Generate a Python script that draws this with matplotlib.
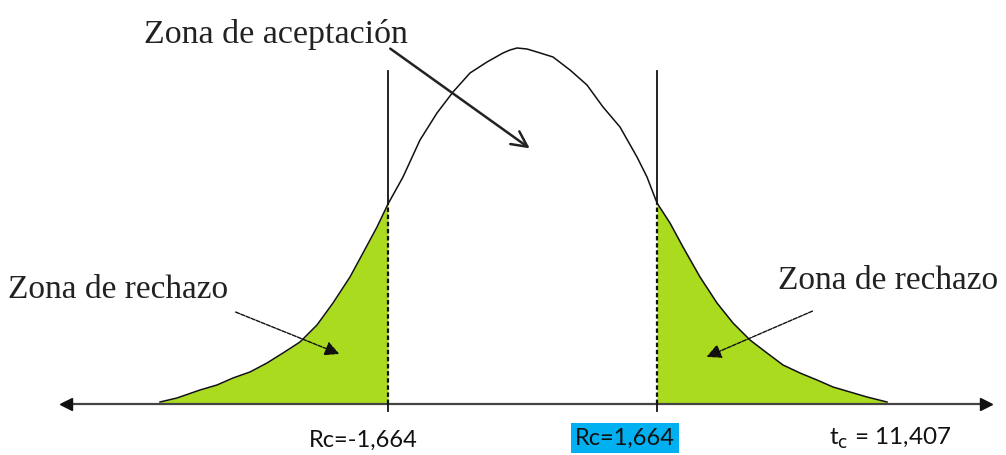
import matplotlib
matplotlib.use("Agg")
import matplotlib.pyplot as plt
import numpy as np

# ---- data (x: horizontal position, h: height above the axis) ----
curve_x = [160, 177, 200, 217, 233, 250, 267, 283, 300, 317, 333, 350, 363, 377, 388,
           403, 420, 437, 453, 470, 487, 503, 510, 517, 527, 537, 553, 570, 587, 603,
           620, 637, 647, 657, 670, 683, 700, 717, 733, 750, 767, 783, 800, 817, 833,
           850, 867, 883, 887]
curve_h = [2, 6, 14, 19, 26, 32, 41, 51, 62, 79, 101, 127, 151, 177, 200,
           227, 264, 291, 312, 331, 342, 351, 354, 356, 355, 352, 347, 334, 319, 297,
           277, 247, 227, 201, 181, 157, 127, 101, 81, 64, 51, 39, 31, 24, 17,
           12, 7, 3, 2]
crit_x = [388, 657]                       # critical lines
crit_labels = ["Rc=-1,664", "Rc=1,664"]
stat_label = r"t$_{\mathrm{c}}$ = 11,407"
zone_accept = "Zona de aceptación"
zone_reject = "Zona de rechazo"

GREEN = "#AADB1E"
cx = np.array(curve_x, float)
ch = np.array(curve_h, float)

fig = plt.figure(figsize=(10.06, 4.55), dpi=100)
ax = fig.add_axes([0, 0, 1, 1])
ax.set_xlim(0, 1006)
ax.set_ylim(404 - 455, 404)
ax.axis("off")

# rejection regions
ax.fill_between(cx, 0, ch, where=cx <= crit_x[0], color=GREEN, lw=0, interpolate=True)
ax.fill_between(cx, 0, ch, where=cx >= crit_x[1], color=GREEN, lw=0, interpolate=True)

# curve
ax.plot(cx, ch, color="#111111", lw=1.1, solid_joinstyle="round")

# horizontal axis with arrow heads
ax.plot([62, 988], [0, 0], color="#444444", lw=1.6, solid_capstyle="butt")
ax.plot([66], [0], marker="<", color="#111111", markersize=8, mec="#111111")
ax.plot([986], [0], marker=">", color="#111111", markersize=8, mec="#111111")

# critical lines
top = 333
for x in crit_x:
    hc = np.interp(x, cx, ch)
    ax.plot([x, x], [hc, top], color="#111111", lw=1.3)
    ax.plot([x, x], [0, hc], color="#111111", lw=1.6, linestyle=(0, (2, 1.2)))
    ax.plot([x, x], [-7, 0], color="#111111", lw=1.3)

serif = "Liberation Serif"
ax.text(144, 404 - 43, zone_accept, family=serif, fontsize=24.5, color="#222222",
        ha="left", va="baseline")
ax.text(8, 404 - 298, zone_reject, family=serif, fontsize=24, color="#222222",
        ha="left", va="baseline")
ax.text(778, 404 - 289, zone_reject, family=serif, fontsize=24, color="#222222",
        ha="left", va="baseline")

# arrows
ax.annotate("", xy=(532, 404 - 150), xytext=(388, 404 - 47),
            arrowprops=dict(arrowstyle="->", color="#222222", lw=1.8, mutation_scale=28))
ax.annotate("", xy=(342, 404 - 355), xytext=(233, 404 - 311),
            arrowprops=dict(arrowstyle="-|>", color="#111111", lw=1.0,
                            linestyle=(0, (3, 1)), mutation_scale=22))
ax.annotate("", xy=(704, 404 - 358), xytext=(815, 404 - 310),
            arrowprops=dict(arrowstyle="-|>", color="#111111", lw=1.0,
                            linestyle=(0, (3, 1)), mutation_scale=22))

# bottom labels
sans = ["Lato", "DejaVu Sans"]
ax.text(363, 404 - 440, crit_labels[0], family=sans, fontsize=17, color="#111111",
        ha="center", va="center")
ax.text(625, 404 - 438, crit_labels[1], family=sans, fontsize=17, color="#111111",
        ha="center", va="center",
        bbox=dict(boxstyle="square,pad=0.18", fc="#00B0F0", ec="none"))
ax.text(890, 404 - 438, stat_label, family=sans, fontsize=17.5, color="#111111",
        ha="center", va="center")

fig.savefig("out.png", dpi=100)
